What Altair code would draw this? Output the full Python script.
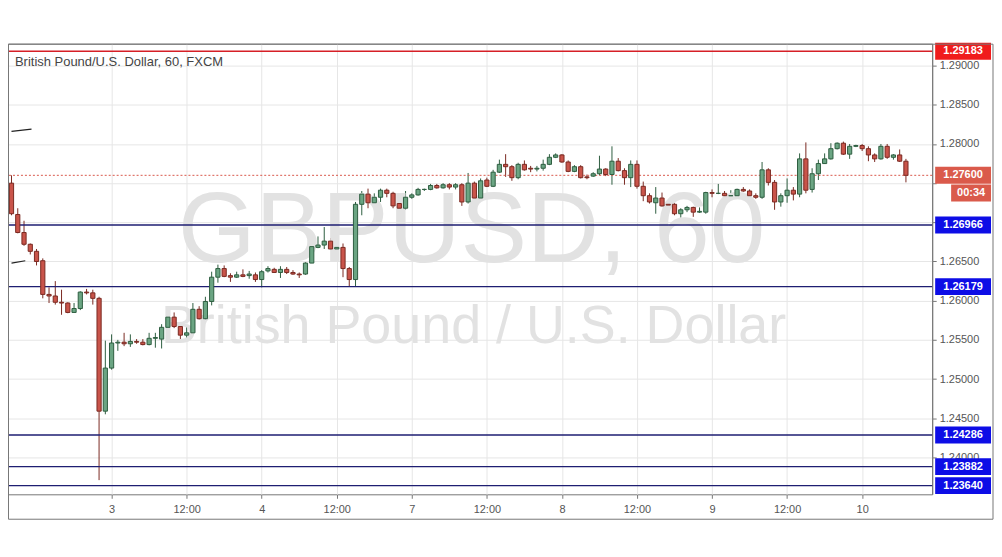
import altair as alt
import pandas as pd

# ---------------- data ----------------
opens = [1.2750,1.2710,1.2687,1.2672,1.2663,1.2651,1.2608,1.2606,1.2598,1.2597,
         1.2585,1.2590,1.2611,1.2610,1.2603,1.2459,1.2514,1.2546,1.2547,1.2545,
         1.2548,1.2547,1.2544,1.2552,1.2551,1.2566,1.2579,1.2567,1.2556,1.2559,
         1.2589,1.2577,1.2599,1.2630,1.2641,1.2632,1.2630,1.2633,1.2632,1.2633,
         1.2627,1.2638,1.2640,1.2636,1.2640,1.2636,1.2634,1.2634,1.2648,1.2668,
         1.2671,1.2676,1.2666,1.2668,1.2641,1.2627,1.2723,1.2736,1.2725,1.2732,
         1.2741,1.2737,1.2724,1.2718,1.2732,1.2735,1.2742,1.2742,1.2747,1.2744,
         1.2748,1.2745,1.2748,1.2726,1.2750,1.2731,1.2754,1.2746,1.2764,1.2774,
         1.2771,1.2757,1.2774,1.2769,1.2768,1.2769,1.2774,1.2783,1.2786,1.2777,
         1.2765,1.2771,1.2758,1.2759,1.2762,1.2768,1.2761,1.2778,1.2766,1.2757,
         1.2774,1.2746,1.2734,1.2725,1.2731,1.2723,1.2723,1.2711,1.2716,1.2719,
         1.2713,1.2713,1.2738,1.2737,1.2737,1.2734,1.2734,1.2742,1.2740,1.2734,
         1.2732,1.2767,1.2751,1.2726,1.2734,1.2741,1.2736,1.2781,1.2742,1.2762,
         1.2775,1.2781,1.2794,1.2801,1.2787,1.2797,1.2798,1.2794,1.2786,1.2781,
         1.2797,1.2783,1.2786,1.2778]

highs = [1.2760,1.2718,1.2702,1.2673,1.2666,1.2654,1.2617,1.2625,1.2614,1.2598,
         1.2597,1.2612,1.2615,1.2614,1.2605,1.2549,1.2557,1.2550,1.2559,1.2557,
         1.2551,1.2551,1.2559,1.2559,1.2570,1.2586,1.2585,1.2571,1.2568,1.2597,
         1.2593,1.2605,1.2637,1.2646,1.2645,1.2635,1.2637,1.2640,1.2638,1.2636,
         1.2639,1.2644,1.2642,1.2644,1.2643,1.2639,1.2636,1.2649,1.2672,1.2682,
         1.2694,1.2680,1.2674,1.2673,1.2643,1.2726,1.2740,1.2743,1.2737,1.2743,
         1.2743,1.2739,1.2726,1.2740,1.2737,1.2744,1.2743,1.2749,1.2749,1.2750,
         1.2750,1.2750,1.2750,1.2763,1.2752,1.2756,1.2757,1.2767,1.2780,1.2787,
         1.2773,1.2776,1.2779,1.2772,1.2772,1.2780,1.2787,1.2788,1.2787,1.2779,
         1.2773,1.2773,1.2761,1.2764,1.2785,1.2769,1.2797,1.2782,1.2769,1.2779,
         1.2779,1.2752,1.2737,1.2745,1.2738,1.2724,1.2725,1.2718,1.2721,1.2720,
         1.2719,1.2739,1.2742,1.2749,1.2740,1.2741,1.2743,1.2745,1.2742,1.2737,
         1.2777,1.2769,1.2754,1.2737,1.2756,1.2745,1.2788,1.2802,1.2769,1.2780,
         1.2788,1.2801,1.2802,1.2803,1.2800,1.2799,1.2800,1.2797,1.2788,1.2800,
         1.2800,1.2787,1.2793,1.2781]

lows = [1.2709,1.2686,1.2670,1.2659,1.2645,1.2603,1.2597,1.2595,1.2582,1.2584,
        1.2585,1.2588,1.2608,1.2595,1.2371,1.2455,1.2512,1.2536,1.2542,1.2541,
        1.2545,1.2543,1.2543,1.2540,1.2539,1.2560,1.2565,1.2551,1.2551,1.2556,
        1.2576,1.2576,1.2594,1.2623,1.2630,1.2624,1.2629,1.2630,1.2628,1.2624,
        1.2617,1.2636,1.2636,1.2629,1.2634,1.2633,1.2629,1.2633,1.2648,1.2667,
        1.2666,1.2665,1.2665,1.2630,1.2618,1.2618,1.2709,1.2718,1.2720,1.2726,
        1.2732,1.2718,1.2716,1.2716,1.2730,1.2734,1.2740,1.2741,1.2743,1.2743,
        1.2742,1.2742,1.2721,1.2724,1.2726,1.2728,1.2745,1.2745,1.2763,1.2758,
        1.2753,1.2755,1.2766,1.2764,1.2765,1.2766,1.2773,1.2782,1.2776,1.2764,
        1.2764,1.2756,1.2755,1.2758,1.2760,1.2759,1.2748,1.2765,1.2748,1.2745,
        1.2743,1.2727,1.2724,1.2711,1.2720,1.2709,1.2709,1.2706,1.2713,1.2707,
        1.2712,1.2711,1.2732,1.2736,1.2733,1.2733,1.2733,1.2739,1.2733,1.2730,
        1.2730,1.2747,1.2716,1.2720,1.2725,1.2728,1.2732,1.2737,1.2738,1.2754,
        1.2775,1.2780,1.2793,1.2786,1.2781,1.2796,1.2791,1.2778,1.2777,1.2780,
        1.2781,1.2780,1.2777,1.2751]

closes = [1.2711,1.2687,1.2672,1.2663,1.2650,1.2608,1.2606,1.2598,1.2597,1.2585,
          1.2590,1.2611,1.2610,1.2603,1.2459,1.2514,1.2546,1.2547,1.2545,1.2548,
          1.2547,1.2544,1.2552,1.2553,1.2566,1.2579,1.2567,1.2556,1.2559,1.2589,
          1.2577,1.2599,1.2630,1.2641,1.2631,1.2630,1.2633,1.2631,1.2634,1.2627,
          1.2637,1.2641,1.2636,1.2640,1.2636,1.2634,1.2633,1.2648,1.2669,1.2671,
          1.2676,1.2666,1.2668,1.2641,1.2627,1.2723,1.2736,1.2725,1.2732,1.2741,
          1.2737,1.2721,1.2718,1.2732,1.2735,1.2742,1.2742,1.2747,1.2744,1.2748,
          1.2745,1.2748,1.2726,1.2750,1.2731,1.2753,1.2746,1.2764,1.2774,1.2771,
          1.2757,1.2774,1.2767,1.2768,1.2769,1.2774,1.2783,1.2786,1.2777,1.2765,
          1.2771,1.2757,1.2757,1.2762,1.2768,1.2761,1.2778,1.2766,1.2757,1.2774,
          1.2746,1.2734,1.2726,1.2731,1.2721,1.2722,1.2711,1.2716,1.2719,1.2713,
          1.2714,1.2738,1.2737,1.2737,1.2734,1.2734,1.2742,1.2740,1.2734,1.2732,
          1.2767,1.2751,1.2726,1.2734,1.2741,1.2736,1.2781,1.2741,1.2762,1.2775,
          1.2781,1.2794,1.2801,1.2787,1.2797,1.2798,1.2794,1.2786,1.2781,1.2797,
          1.2783,1.2786,1.2778,1.2760]

tick_idx = [16, 28, 40, 52, 64, 76, 88, 100, 112, 124, 136]
tick_labels = ["3", "12:00", "4", "12:00", "7", "12:00", "8", "12:00", "9", "12:00", "10"]
y_ticks = [1.240, 1.245, 1.250, 1.255, 1.260, 1.265, 1.270, 1.275, 1.280, 1.285, 1.290]
y_hidden = [1.270, 1.275]   # labels covered by the price boxes in the reference

level_prices = [1.29183, 1.26966, 1.26179, 1.24286, 1.23882, 1.23640]
level_kinds = ["red", "blue", "blue", "blue", "blue", "blue"]
last_price = 1.27600
countdown = "00:34"

seg_id = ["a", "a", "b", "b"]
seg_idx = [0.0, 3.2, 0.0, 2.2]
seg_price = [1.2816, 1.2819, 1.2648, 1.2651]

chart_title = "British Pound/U.S. Dollar, 60, FXCM"
watermark_symbol = "GBPUSD, 60"
watermark_name = "British Pound / U.S. Dollar"

FONT = "Liberation Sans"
W, H = 927, 452

# ---------------- frames ----------------
df = pd.DataFrame({"i": list(range(len(opens))), "open": opens, "high": highs,
                   "low": lows, "close": closes})
df["dir"] = ["up" if c >= o else "down" for o, c in zip(opens, closes)]
df["lo"] = [min(o, c) for o, c in zip(opens, closes)]
df["hi"] = [max(o, c) for o, c in zip(opens, closes)]

levels = pd.DataFrame({"price": level_prices, "kind": level_kinds})
boxes = pd.DataFrame({"price": level_prices + [last_price],
                      "kind": level_kinds + ["last"],
                      "label": [f"{p:.5f}" for p in level_prices + [last_price]]})
lastdf = pd.DataFrame({"price": [last_price], "label": [countdown]})
segs = pd.DataFrame({"id": seg_id, "i": seg_idx, "price": seg_price})
one = pd.DataFrame({"k": [0]})

xscale = alt.Scale(domain=[0.236, 146.4], nice=False, zero=False)
yscale = alt.Scale(domain=[1.23529, 1.29280], nice=False, zero=False)

labels_js = "[" + ",".join(f"'{t}'" for t in tick_labels) + "]"
idx_js = "[" + ",".join(str(i) for i in tick_idx) + "]"
hide_js = " || ".join(f"abs(datum.value - {v}) < 1e-7" for v in y_hidden)

x_axis = alt.Axis(values=tick_idx, labelExpr=f"{labels_js}[indexof({idx_js}, datum.value)]",
                  grid=True, gridColor="#e6e6e6", ticks=True, tickSize=4, tickColor="#777777",
                  domain=False, labelFontSize=11, labelColor="#555555", labelPadding=5,
                  labelFont=FONT, labelFlush=False, title=None)
y_axis = alt.Axis(orient="right", values=y_ticks,
                  labelExpr=f"({hide_js}) ? '' : format(datum.value, '.5f')",
                  grid=True, gridColor="#e6e6e6",
                  tickSize=4, tickColor="#777777", domainColor="#777777",
                  labelFontSize=11, labelColor="#555555", labelPadding=3, labelFont=FONT,
                  title=None)


def X(field):
    return alt.X(field, scale=xscale, axis=x_axis, title=None)


def Y(field):
    return alt.Y(field, scale=yscale, axis=y_axis, title=None)


red_fill, red_line = "#c9544a", "#7a2a22"
grn_fill, grn_line = "#6ba583", "#2e5e40"
dir_fill = alt.Scale(domain=["up", "down"], range=[grn_fill, red_fill])
dir_line = alt.Scale(domain=["up", "down"], range=[grn_line, red_line])

wicks = alt.Chart(df).mark_rule(strokeWidth=1).encode(
    x=X("i:Q"), y=Y("low:Q"), y2="high:Q",
    color=alt.Color("dir:N", scale=dir_line, legend=None),
)

bodies = alt.Chart(df).mark_bar(size=4.2, strokeWidth=1).encode(
    x=X("i:Q"), y=Y("lo:Q"), y2="hi:Q",
    fill=alt.Fill("dir:N", scale=dir_fill, legend=None),
    stroke=alt.Stroke("dir:N", scale=dir_line, legend=None),
)

wm1 = alt.Chart(one).mark_text(text=watermark_symbol, fontSize=100, font=FONT, color="#e2e2e2",
                               align="center", baseline="alphabetic").encode(
    x=alt.value(465), y=alt.value(219))
wm2 = alt.Chart(one).mark_text(text=watermark_name, fontSize=54, font=FONT, color="#e2e2e2",
                               align="center", baseline="alphabetic").encode(
    x=alt.value(467), y=alt.value(300))

title_txt = alt.Chart(one).mark_text(text=chart_title, fontSize=13, font=FONT, color="#444444",
                                     align="left", baseline="alphabetic").encode(
    x=alt.value(7), y=alt.value(22))

frame = alt.Chart(one).mark_rect(fillOpacity=0, stroke="#777777", strokeWidth=1).encode(
    x=alt.value(0.5), x2=alt.value(988), y=alt.value(0.5), y2=alt.value(477))

level_rules = alt.Chart(levels).mark_rule(strokeWidth=1.4).encode(
    y=Y("price:Q"),
    color=alt.Color("kind:N", scale=alt.Scale(domain=["red", "blue"], range=["#d61f26", "#1e1e72"]),
                    legend=None),
)

last_rule = alt.Chart(lastdf).mark_rule(strokeWidth=1, strokeDash=[2, 2], color="#d9594c").encode(
    y=Y("price:Q"))

segments = alt.Chart(segs).mark_line(color="#222222", strokeWidth=1.2).encode(
    x=X("i:Q"), y=Y("price:Q"), detail="id:N")

box_scale = alt.Scale(domain=["red", "blue", "last"], range=["#f01c1c", "#0d0de6", "#da5a4b"])
box_rects = alt.Chart(boxes).transform_calculate(
    top="datum.price + 0.00108", bot="datum.price - 0.00108"
).mark_rect().encode(
    x=alt.value(930), x2=alt.value(986),
    y=Y("top:Q"), y2="bot:Q",
    color=alt.Color("kind:N", scale=box_scale, legend=None))
box_text = alt.Chart(boxes).mark_text(fontSize=11, fontWeight="bold", font=FONT, color="white",
                                      align="center", baseline="middle").encode(
    x=alt.value(958), y=Y("price:Q"), text="label:N")

cd_rect = alt.Chart(lastdf).transform_calculate(
    top="datum.price - 0.00118", bot="datum.price - 0.00335"
).mark_rect(color="#da5a4b").encode(
    x=alt.value(946), x2=alt.value(986),
    y=Y("top:Q"), y2="bot:Q")
cd_text = alt.Chart(lastdf).transform_calculate(
    mid="datum.price - 0.00226"
).mark_text(fontSize=11, fontWeight="bold", font=FONT, color="white",
            align="center", baseline="middle").encode(
    x=alt.value(966), y=Y("mid:Q"), text="label:N")

chart = alt.layer(
    wicks, wm1, wm2, title_txt, level_rules, last_rule, bodies, segments,
    box_rects, box_text, cd_rect, cd_text, frame
).resolve_scale(color="independent").properties(
    width=W, height=H,
    autosize=alt.AutoSizeParams(type="none"),
    padding={"left": 0, "top": 35, "right": 62, "bottom": 30},
    background="white",
).configure_view(stroke="#777777", strokeWidth=1)

chart.save("out.html", embed_options={"renderer": "svg", "actions": False})
